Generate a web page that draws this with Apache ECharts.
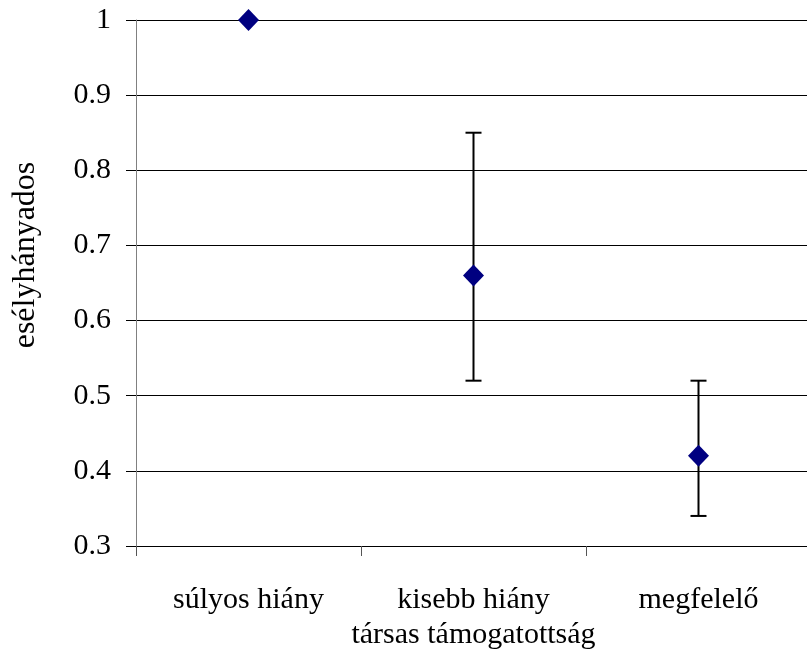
<!DOCTYPE html>
<html>
<head>
<meta charset="utf-8">
<script src="https://cdn.jsdelivr.net/npm/echarts@6/dist/echarts.min.js"></script>
<style>html,body{margin:0;padding:0;background:#fff}#c{width:807px;height:650px}</style>
</head>
<body>
<div id="c"></div>
<script>
const categories = ['súlyos hiány', 'kisebb hiány', 'megfelelő'];
const oddsRatio = [1, 0.66, 0.42];
const ciLower = [null, 0.52, 0.34];
const ciUpper = [null, 0.85, 0.52];
const yTicks = [0.3, 0.4, 0.5, 0.6, 0.7, 0.8, 0.9, 1];
const xTitle = 'társas támogatottság';
const yTitle = 'esélyhányados';

const FONT = "Liberation Serif";
const chart = echarts.init(document.getElementById('c'), null, {renderer: 'canvas'});

const errData = categories.map((c, i) => [i, ciLower[i], ciUpper[i]]).filter(d => d[1] != null);

chart.setOption({
  animation: false,
  backgroundColor: '#fff',
  grid: {left: 136, top: 20, width: 675, height: 526, containLabel: false, outerBoundsMode: 'none'},
  xAxis: {
    type: 'category',
    data: categories,
    boundaryGap: true,
    axisLine: {lineStyle: {color: '#000', width: 1}},
    axisTick: {show: true, length: 10, inside: false, interval: 0, lineStyle: {color: '#555'}},
    axisLabel: {fontFamily: FONT, fontSize: 30, color: '#000', margin: 39, interval: 0},
    name: xTitle,
    nameLocation: 'middle',
    nameGap: 73,
    nameTextStyle: {fontFamily: FONT, fontSize: 30, color: '#000'},
    splitLine: {show: false}
  },
  yAxis: {
    type: 'value',
    min: yTicks[0],
    max: yTicks[yTicks.length - 1],
    interval: 0.1,
    axisLine: {show: true, lineStyle: {color: '#808080', width: 1}},
    axisTick: {show: true, length: 10, lineStyle: {color: '#000'}},
    axisLabel: {fontFamily: FONT, fontSize: 30, color: '#000', margin: 25,
      formatter: v => String(Math.round(v * 10) / 10)},
    splitLine: {show: true, lineStyle: {color: '#000', width: 1}}
  },
  graphic: [{
    type: 'text',
    x: 26, y: 255,
    rotation: Math.PI / 2,
    style: {text: yTitle, fontFamily: FONT, fontSize: 32, fill: '#000', align: 'center', verticalAlign: 'middle'}
  }],
  series: [
    {
      type: 'custom',
      data: errData,
      z: 2,
      renderItem: function (params, api) {
        const x = api.value(0);
        const lo = api.coord([x, api.value(1)]);
        const hi = api.coord([x, api.value(2)]);
        const hw = 8;
        const st = {stroke: '#000', lineWidth: 2};
        return {
          type: 'group',
          children: [
            {type: 'line', shape: {x1: lo[0], y1: lo[1], x2: hi[0], y2: hi[1]}, style: st},
            {type: 'line', shape: {x1: lo[0] - hw, y1: lo[1], x2: lo[0] + hw, y2: lo[1]}, style: st},
            {type: 'line', shape: {x1: hi[0] - hw, y1: hi[1], x2: hi[0] + hw, y2: hi[1]}, style: st}
          ]
        };
      }
    },
    {
      type: 'scatter',
      data: oddsRatio,
      symbol: 'diamond',
      symbolSize: [21, 22],
      itemStyle: {color: '#000080', opacity: 1},
      z: 3
    }
  ]
});
</script>
</body>
</html>
